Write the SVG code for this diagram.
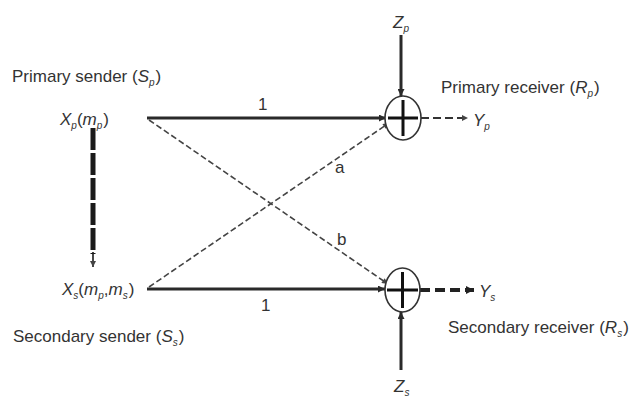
<svg xmlns="http://www.w3.org/2000/svg" width="633" height="400" viewBox="0 0 633 400">
<style>
text{font-family:"Liberation Sans",Arial,sans-serif;font-size:17px;fill:#333}
.it{font-style:italic}
.sub{font-size:10px;font-style:italic}
.solid{stroke:#2a2a2a;stroke-width:3;fill:none}
.thin{stroke:#444;stroke-width:1.6;stroke-dasharray:6 3;fill:none}
.out{stroke:#333;stroke-width:2;stroke-dasharray:8 4;fill:none}
.out2{stroke:#222;stroke-width:4;stroke-dasharray:10 5;fill:none}
.ring{stroke:#333;stroke-width:1.6;fill:#fff}
.plus{stroke:#111;stroke-width:3}
</style>
<defs>
<marker id="ah" viewBox="0 0 10 10" refX="10" refY="5" markerWidth="9" markerHeight="7" markerUnits="userSpaceOnUse" orient="auto"><path d="M0,0 L10,5 L0,10 z" fill="#2a2a2a"/></marker>
<marker id="ahs" viewBox="0 0 10 10" refX="10" refY="5" markerWidth="8" markerHeight="6" markerUnits="userSpaceOnUse" orient="auto"><path d="M0,0 L10,5 L0,10 z" fill="#444"/></marker>
<marker id="ahb" viewBox="0 0 10 10" refX="10" refY="5" markerWidth="10" markerHeight="8" markerUnits="userSpaceOnUse" orient="auto"><path d="M0,0 L10,5 L0,10 z" fill="#222"/></marker>
</defs>

<g id="connectors">
<line class="solid" x1="147" y1="118" x2="386" y2="118" marker-end="url(#ah)"/>
<line class="solid" x1="147" y1="289" x2="385" y2="289" marker-end="url(#ah)"/>
<line class="thin" x1="149" y1="120" x2="388" y2="284" marker-end="url(#ahs)"/>
<line class="thin" x1="149" y1="287" x2="389" y2="123" marker-end="url(#ahs)"/>
<line x1="93" y1="128" x2="93" y2="254" stroke="#1a1a1a" stroke-width="5" stroke-dasharray="22 3"/>
<line x1="93" y1="252" x2="93" y2="267" stroke="#1a1a1a" stroke-width="1.6" marker-end="url(#ahs)"/>
<line class="solid" x1="401" y1="35" x2="401" y2="96" marker-end="url(#ah)"/>
<line class="solid" x1="401" y1="370" x2="401" y2="312" marker-end="url(#ah)"/>
<line class="out" x1="421" y1="118" x2="468" y2="118" marker-end="url(#ahs)"/>
<line class="out2" x1="420" y1="290" x2="474" y2="290" marker-end="url(#ahb)"/>
<text x="258" y="110">1</text>
<text x="261" y="311">1</text>
<text x="335" y="173">a</text>
<text x="337" y="245">b</text>
</g>

<g id="primary-sender">
<text x="12" y="82">Primary sender (<tspan class="it">S</tspan><tspan class="sub" dy="4">p</tspan><tspan dx="1" dy="-4">)</tspan></text>
<text x="60" y="125"><tspan class="it">X</tspan><tspan class="sub" dy="4">p</tspan><tspan dy="-4">(</tspan><tspan class="it">m</tspan><tspan class="sub" dy="4">p</tspan><tspan dx="1" dy="-4">)</tspan></text>
</g>

<g id="secondary-sender">
<text x="62" y="295"><tspan class="it">X</tspan><tspan class="sub" dy="4">s</tspan><tspan dy="-4">(</tspan><tspan class="it">m</tspan><tspan class="sub" dy="4">p</tspan><tspan dy="-4">,</tspan><tspan class="it">m</tspan><tspan class="sub" dy="4">s</tspan><tspan dx="1" dy="-4">)</tspan></text>
<text x="13" y="342">Secondary sender (<tspan class="it">S</tspan><tspan class="sub" dy="4">s</tspan><tspan dx="1" dy="-4">)</tspan></text>
</g>

<g id="primary-receiver">
<ellipse class="ring" cx="403" cy="118" rx="18" ry="22"/>
<line class="plus" x1="388" y1="118" x2="418" y2="118"/>
<line class="plus" x1="403" y1="100" x2="403" y2="136"/>
<text x="441" y="93" font-size="17.5">Primary receiver (<tspan class="it">R</tspan><tspan class="sub" dy="4">p</tspan><tspan dx="1" dy="-4">)</tspan></text>
<text x="473" y="126"><tspan class="it">Y</tspan><tspan class="sub" dy="4">p</tspan></text>
<text x="393" y="28"><tspan class="it">Z</tspan><tspan class="sub" dy="4">p</tspan></text>
</g>

<g id="secondary-receiver">
<ellipse class="ring" cx="402.5" cy="290" rx="17.5" ry="22"/>
<line class="plus" x1="387" y1="290" x2="418" y2="290"/>
<line class="plus" x1="402.5" y1="272" x2="402.5" y2="308"/>
<text x="448" y="333">Secondary receiver (<tspan class="it">R</tspan><tspan class="sub" dy="4">s</tspan><tspan dx="1" dy="-4">)</tspan></text>
<text x="479" y="297"><tspan class="it">Y</tspan><tspan class="sub" dy="4">s</tspan></text>
<text x="394" y="392"><tspan class="it">Z</tspan><tspan class="sub" dy="4">s</tspan></text>
</g>
</svg>
